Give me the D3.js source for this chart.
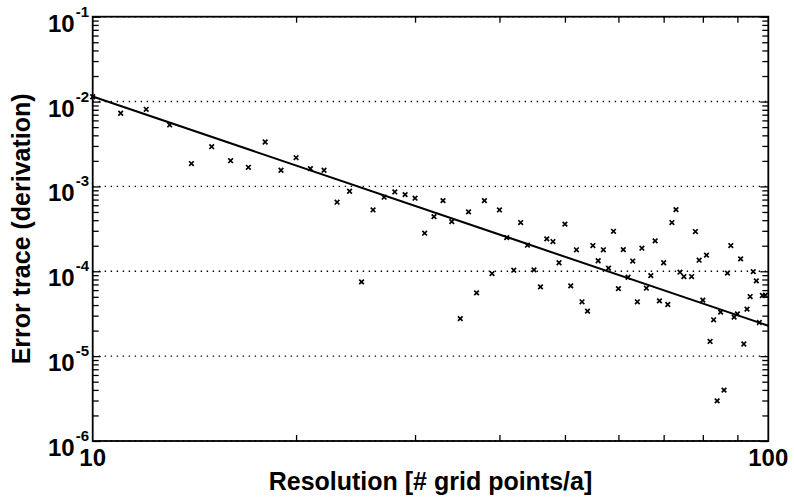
<!DOCTYPE html>
<html><head><meta charset="utf-8">
<script src="https://cdn.jsdelivr.net/npm/d3@7"></script>
<style>
html,body{margin:0;padding:0;background:#fff;}
svg{display:block;font-family:"Liberation Sans",Arial,sans-serif;font-weight:bold;}
</style></head>
<body>
<svg id="chart" width="794" height="503"></svg>
<script>
// Data
const resolution = [10,11,12,13,14,15,16,17,18,19,20,21,22,23,24,25,26,27,28,29,30,
  31,32,33,34,35,36,37,38,39,40,41,42,43,44,45,46,47,48,49,50,
  51,52,53,54,55,56,57,58,59,60,61,62,63,64,65,66,67,68,69,70,
  71,72,73,74,75,77,78,79,80,81,82,83,84,85,86,87,88,89,90,
  91,92,93,94,95,96,97,98,99];
const errorTrace = [1.14e-2,7.28e-3,8.11e-3,5.30e-3,1.86e-3,2.94e-3,2.01e-3,1.68e-3,3.34e-3,1.55e-3,2.18e-3,1.62e-3,1.55e-3,6.52e-4,8.77e-4,7.50e-5,5.28e-4,7.46e-4,8.61e-4,8.00e-4,7.26e-4,
  2.81e-4,4.41e-4,6.81e-4,3.85e-4,2.77e-5,5.01e-4,5.57e-5,6.81e-4,9.40e-5,5.28e-4,2.49e-4,1.03e-4,3.75e-4,2.03e-4,1.04e-4,6.55e-5,2.41e-4,2.24e-4,1.26e-4,3.59e-4,
  6.73e-5,1.79e-4,4.37e-5,3.39e-5,2.01e-4,1.33e-4,1.79e-4,1.09e-4,2.96e-4,6.25e-5,1.80e-4,8.51e-5,1.32e-4,4.37e-5,1.87e-4,6.32e-5,8.89e-5,2.28e-4,4.48e-5,1.26e-4,
  4.06e-5,3.75e-4,5.33e-4,9.75e-5,8.67e-5,8.67e-5,2.94e-4,1.35e-4,4.57e-5,1.55e-4,1.49e-5,2.68e-5,2.97e-6,3.30e-5,3.98e-6,9.51e-5,2.01e-4,2.88e-5,3.15e-5,
  1.40e-4,1.39e-5,3.58e-5,5.04e-5,9.91e-5,7.71e-5,2.49e-5,5.18e-5,5.22e-5];
const fitX = [10, 100];
const fitY = [1.148e-2, 2.28e-5];
const xTickValues = [10, 100];
const xTickLabels = ["10", "100"];
const xMinorTicks = [20, 30, 40, 50, 60, 70, 80, 90];
const yTickValues = [1e-1, 1e-2, 1e-3, 1e-4, 1e-5, 1e-6];
const yTickExponents = ["-1", "-2", "-3", "-4", "-5", "-6"];
const xTitle = "Resolution [# grid points/a]";
const yTitle = "Error trace (derivation)";

const L = 92.7, R = 768.3, T = 16.7, B = 441;
const svg = d3.select("#chart");
svg.append("rect").attr("width", 794).attr("height", 503).attr("fill", "#fff");

const x = d3.scaleLog().domain([10, 100]).range([L, R]);
const y = d3.scaleLog().domain([1e-6, 1e-1]).range([B, T]);

// minor y ticks (2..9 per decade)
const yMinor = [];
yTickValues.slice(1).forEach(d => { for (let k = 2; k <= 9; k++) yMinor.push(d * k); });

// grid lines (dotted)
svg.append("g").selectAll("line").data(yTickValues).join("line")
  .attr("x1", L).attr("x2", R).attr("y1", d => y(d)).attr("y2", d => y(d))
  .attr("stroke", "#000").attr("stroke-width", 1.4).attr("stroke-dasharray", "1.4 4.6");

// axes with inward ticks via d3 axes
const axisW = 1.8;
const gL = svg.append("g").attr("transform", `translate(${L},0)`)
  .call(d3.axisRight(y).tickValues(yMinor).tickSize(6).tickFormat(""));
const gL2 = svg.append("g").attr("transform", `translate(${L},0)`)
  .call(d3.axisRight(y).tickValues(yTickValues).tickSize(8).tickFormat(""));
const gR = svg.append("g").attr("transform", `translate(${R},0)`)
  .call(d3.axisLeft(y).tickValues(yMinor).tickSize(6).tickFormat(""));
const gR2 = svg.append("g").attr("transform", `translate(${R},0)`)
  .call(d3.axisLeft(y).tickValues(yTickValues).tickSize(8).tickFormat(""));
const gB = svg.append("g").attr("transform", `translate(0,${B})`)
  .call(d3.axisTop(x).tickValues(xMinorTicks).tickSize(6).tickFormat(""));
const gT = svg.append("g").attr("transform", `translate(0,${T})`)
  .call(d3.axisBottom(x).tickValues(xMinorTicks).tickSize(6).tickFormat(""));
[gL, gL2, gR, gR2, gB, gT].forEach(g => {
  g.select(".domain").remove();
  g.selectAll(".tick line").attr("stroke", "#000").attr("stroke-width", 1.3);
});
// frame
svg.append("rect").attr("x", L).attr("y", T).attr("width", R - L).attr("height", B - T)
  .attr("fill", "none").attr("stroke", "#000").attr("stroke-width", axisW);

// fit line
const line = d3.line().x(d => x(d[0])).y(d => y(d[1]));
svg.append("path").datum(fitX.map((v, i) => [v, fitY[i]]))
  .attr("d", line).attr("fill", "none").attr("stroke", "#000").attr("stroke-width", 2);

// markers
const s = 2.3;
svg.append("g").selectAll("path").data(resolution.map((v, i) => [v, errorTrace[i]])).join("path")
  .attr("transform", d => `translate(${x(d[0])},${y(d[1])})`)
  .attr("d", `M${-s},${-s}L${s},${s}M${-s},${s}L${s},${-s}`)
  .attr("stroke", "#000").attr("stroke-width", 1.7).attr("fill", "none");

// x tick labels
svg.append("g").selectAll("text").data(xTickValues).join("text")
  .attr("x", d => x(d)).attr("y", 466).attr("text-anchor", "middle")
  .attr("font-size", 24).text((d, i) => xTickLabels[i]);

// y tick labels 10^n
const yl = svg.append("g").selectAll("text").data(yTickValues).join("text")
  .attr("x", 89).attr("y", d => y(d) + 15).attr("text-anchor", "end").attr("font-size", 24);
yl.append("tspan").text("10");
yl.append("tspan").attr("font-size", 15).attr("dx", 1).attr("dy", -15).text((d, i) => yTickExponents[i]);

// titles
svg.append("text").attr("x", (L + R) / 2).attr("y", 490).attr("text-anchor", "middle")
  .attr("font-size", 25).text(xTitle);
svg.append("text").attr("transform", `translate(29.5,${(T + B) / 2}) rotate(-90)`)
  .attr("text-anchor", "middle").attr("font-size", 25).text(yTitle);
</script>
</body></html>
